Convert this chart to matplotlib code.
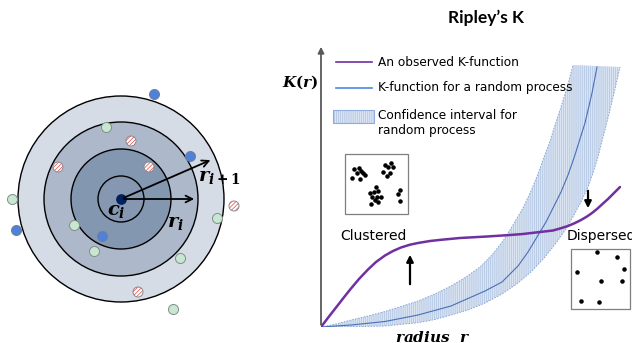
import matplotlib
matplotlib.use("Agg")
import matplotlib.pyplot as plt
from matplotlib.patches import Circle, Polygon, Rectangle

plt.rcParams['mathtext.fontset'] = 'custom'
plt.rcParams['mathtext.it'] = 'DejaVu Serif:italic:bold'
plt.rcParams['mathtext.rm'] = 'DejaVu Serif:bold'
plt.rcParams['mathtext.bf'] = 'DejaVu Serif:bold'
plt.rcParams['hatch.linewidth'] = 0.5

# ---------------- data ----------------
# left panel: ring radii (px) and neighbour points (px, y down)
ring_radii = [103, 77, 50, 23]
ring_colors = ['#d6dce5', '#adb9ca', '#8497b0', '#8698b1']
center_xy = (121, 199)

blue_x = [154, 190, 16, 102]
blue_y = [94, 156, 230, 236]
green_x = [106, 12, 217, 74, 94, 180, 173]
green_y = [127, 199, 218, 225, 251, 258, 309]
red_x = [131, 58, 149, 234, 138]
red_y = [141, 167, 167, 206, 292]

# right panel: K-functions (r, K in chart units)
obs_r = [0, 8, 17, 24, 30, 38, 47, 55, 64, 72, 80, 89, 97, 109, 120, 139, 166, 189, 202,
         219, 232, 239, 247, 254, 260, 266, 271, 276, 282, 287, 291, 295, 299]
obs_K = [0, 10.5, 22, 31, 38.5, 48, 57.5, 65, 71.5, 76, 79.5, 82.3, 84, 86, 87.2, 89, 90.5, 92, 93,
         95, 96.5, 98.5, 101, 104, 107, 110.5, 114, 118, 123.5, 128, 132, 136, 140]

rand_r = [0, 30, 64, 97, 130, 164, 181, 197, 207, 216, 225, 232, 240, 247, 253, 258, 264, 271, 276]
rand_K = [0, 2, 5.5, 12, 21, 36, 45, 61, 75, 90, 105, 119, 135, 152, 169, 185, 204, 234, 260]

ci_up_r = [0, 15, 30, 47, 64, 80, 97, 114, 130, 145, 159, 171, 182, 192, 202, 210, 217,
           223, 229, 234, 239, 246, 252]
ci_up_K = [0, 3, 7, 11, 15.5, 20.5, 26, 33, 41, 50, 60, 72, 86, 102, 119, 136, 153,
           170, 186, 202, 217, 239, 262]
ci_lo_r = [0, 32, 64, 97, 114, 130, 147, 164, 181, 197, 211, 224, 235, 245, 253, 261, 267,
           272, 277, 281, 285, 289, 294, 299]
ci_lo_K = [0, 0.3, 1, 4.3, 7.5, 12, 17, 24, 33, 44, 56, 70, 84, 98, 112, 127, 140,
           154, 170, 186, 201, 217, 238, 260]

# inset point patterns (px)
clus_x = [354, 358.7, 360.7, 356.7, 362.7, 365, 352, 360,
          385, 390.7, 388.3, 393.3, 383.3, 390, 386.7,
          375.7, 370, 374, 378.3, 371.7, 376.7, 380.7, 375, 378.3, 370.7,
          400, 398.3, 400]
clus_y = [169, 168.3, 170.7, 173.3, 173.3, 175, 177.7, 179.3,
          165, 163.3, 167.3, 166.7, 171.7, 173.3, 176,
          186.7, 192.7, 191.7, 190.7, 196.7, 196.7, 196.7, 200, 201.7, 204,
          190, 194, 200.7]
disp_x = [597.3, 617.3, 624, 577.3, 601, 622, 580.7, 598.7]
disp_y = [251.7, 256.7, 269.3, 272, 281.3, 280.7, 300.7, 302.3]

legend_labels = ['An observed K-function', 'K-function for a random process',
                 'Confidence interval for\nrandom process']

BAND_FACE = '#dae4f2'
BAND_HATCH = '#adc2e2'

# ---------------- figure ----------------
fig = plt.figure(figsize=(6.32, 3.43), dpi=100)
bg = fig.add_axes([0, 0, 1, 1])
bg.set_xlim(0, 632)
bg.set_ylim(343, 0)
bg.axis('off')


def ftext(x, y, s, **kw):
    return fig.text(x, y, s, transform=bg.transData, **kw)


# rings
for rad, col in zip(ring_radii, ring_colors):
    bg.add_patch(Circle(center_xy, rad, facecolor=col, edgecolor='black', lw=1.0, zorder=1))

# neighbour points
bg.scatter(green_x, green_y, s=52, facecolor='#c8e6d2', edgecolor='#7f8f86', lw=0.7, zorder=3)
bg.scatter(blue_x, blue_y, s=52, facecolor='#4f81d8', edgecolor='#6f7f9f', lw=0.7, zorder=3)
bg.scatter(red_x, red_y, s=52, facecolor='white', edgecolor='#e04848', hatch='////////', lw=0, zorder=3)
bg.scatter(red_x, red_y, s=52, facecolor='none', edgecolor='#8a8a8a', lw=0.7, zorder=4)

# center and radius arrows
bg.scatter([center_xy[0]], [center_xy[1]], s=45, color='#002060', zorder=5)
bg.annotate('', xy=(213, 159), xytext=center_xy,
            arrowprops=dict(arrowstyle='->', color='black', lw=1.3, mutation_scale=12), zorder=5)
bg.annotate('', xy=(197, 199), xytext=center_xy,
            arrowprops=dict(arrowstyle='->', color='black', lw=1.3, mutation_scale=12), zorder=5)
ftext(116, 211, r'$c_i$', fontsize=14, ha='center', va='center')
ftext(175, 222, r'$r_i$', fontsize=14, ha='center', va='center')
ftext(219, 177, r'$r_{i+1}$', fontsize=14, ha='center', va='center')

# ---------------- right panel ----------------
ax = fig.add_axes([321 / 632, 16 / 343, 311 / 632, 282 / 343])
ax.set_xlim(0, 311)
ax.set_ylim(0, 282)
ax.axis('off')

band = list(zip(ci_up_r, ci_up_K)) + list(zip(ci_lo_r[::-1], ci_lo_K[::-1]))
ax.add_patch(Polygon(band, closed=True, facecolor=BAND_FACE, edgecolor=BAND_HATCH,
                     hatch='||||||||', lw=0, zorder=1))
ax.plot(ci_up_r, ci_up_K, color='#8aa6d4', lw=0.7, ls=(0, (1.5, 1.5)), zorder=2)
ax.plot(ci_lo_r, ci_lo_K, color='#8aa6d4', lw=0.7, ls=(0, (1.5, 1.5)), zorder=2)
ax.plot(rand_r, rand_K, color='#4a6fb8', lw=0.8, zorder=3)
ax.plot(obs_r, obs_K, color='#7030a0', lw=1.8, zorder=4, solid_capstyle='round')

# overlay for things drawn on top of the chart
top = fig.add_axes([0, 0, 1, 1])
top.set_xlim(0, 632)
top.set_ylim(343, 0)
top.axis('off')
top.patch.set_alpha(0)

# axes arrows
top.annotate('', xy=(321, 44), xytext=(321, 327.5),
             arrowprops=dict(arrowstyle='-|>', color='#595959', lw=1.3, mutation_scale=9))
top.annotate('', xy=(633, 327), xytext=(320.5, 327),
             arrowprops=dict(arrowstyle='-|>', color='#595959', lw=1.3, mutation_scale=9))

# title and axis labels
ftext(486, 18, "Ripley’s K", fontsize=12.5, fontweight='bold', family='Lato', ha='center', va='center')
ftext(300, 82, r'$K(r)$', fontsize=11, ha='center', va='center')
ftext(433, 337, r'$radius\ \ r$', fontsize=11, ha='center', va='center')

# legend
top.plot([336, 372], [62, 62], color='#7030a0', lw=1.2)
top.plot([336, 372], [88, 88], color='#4a8ae0', lw=1.2)
top.add_patch(Rectangle((333, 110), 41, 13, facecolor=BAND_FACE, edgecolor=BAND_HATCH,
                        hatch='||||||||', lw=0))
top.add_patch(Rectangle((333, 110), 41, 13, facecolor='none', edgecolor='#8faadc', lw=0.8))
ftext(378, 62, legend_labels[0], fontsize=8.7, va='center')
ftext(378, 88, legend_labels[1], fontsize=8.7, va='center')
ftext(378, 123, legend_labels[2], fontsize=8.7, va='center')

# insets
top.add_patch(Rectangle((344.5, 154), 63, 60, facecolor='white', edgecolor='#7f7f7f', lw=0.9))
top.scatter(clus_x, clus_y, s=5, color='black', zorder=3)
top.add_patch(Rectangle((570.5, 248.5), 59, 60, facecolor='white', edgecolor='#7f7f7f', lw=0.9))
top.scatter(disp_x, disp_y, s=5, color='black', zorder=3)
ftext(373, 236, 'Clustered', fontsize=10, ha='center', va='center')
ftext(567, 236, 'Dispersed', fontsize=10, ha='left', va='center')

# direction arrows
top.annotate('', xy=(410, 252), xytext=(410, 287),
             arrowprops=dict(arrowstyle='-|>', color='black', lw=1.6, mutation_scale=10))
top.annotate('', xy=(588, 211), xytext=(588, 188),
             arrowprops=dict(arrowstyle='-|>', color='black', lw=1.6, mutation_scale=10))

fig.savefig('out.png', dpi=100)
